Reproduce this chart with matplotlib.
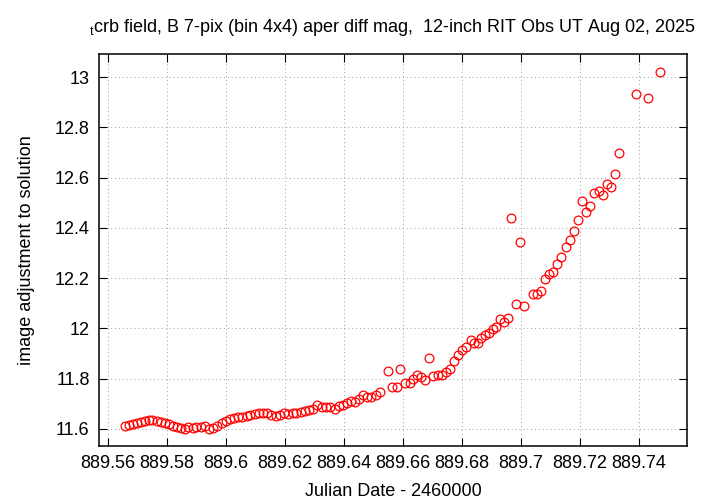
import matplotlib
matplotlib.use('Agg')
import matplotlib.pyplot as plt
from matplotlib.ticker import FuncFormatter, MultipleLocator

# Julian date - 2460000, and the magnitude adjustment
jd = [889.5659, 889.5672, 889.5686, 889.5699, 889.5713, 889.5726, 889.5740, 889.5752,
      889.5766, 889.5780, 889.5793, 889.5807, 889.5820, 889.5834, 889.5847, 889.5861,
      889.5874, 889.5888, 889.5901, 889.5915, 889.5929, 889.5942, 889.5956, 889.5969,
      889.5986, 889.6001, 889.6014, 889.6028, 889.6042, 889.6057, 889.6071, 889.6084,
      889.6099, 889.6113, 889.6127, 889.6141, 889.6155, 889.6170, 889.6184, 889.6197,
      889.6212, 889.6227, 889.6240, 889.6255, 889.6268, 889.6283, 889.6296, 889.6310,
      889.6325, 889.6339, 889.6353, 889.6370, 889.6384, 889.6398, 889.6412, 889.6426,
      889.6438, 889.6452, 889.6466, 889.6479, 889.6494, 889.6509, 889.6522, 889.6550,
      889.6563, 889.6579, 889.6592, 889.6607, 889.6624, 889.6635, 889.6649, 889.6661,
      889.6677, 889.6689, 889.6703, 889.6718, 889.6733, 889.6746, 889.6759, 889.6773,
      889.6788, 889.6802, 889.6814, 889.6830, 889.6841, 889.6855, 889.6867, 889.6880,
      889.6893, 889.6906, 889.6915, 889.6929, 889.6942, 889.6957, 889.6968, 889.6983,
      889.6996, 889.7010, 889.7042, 889.7055, 889.7070, 889.7081, 889.7095, 889.7109,
      889.7123, 889.7138, 889.7152, 889.7166, 889.7179, 889.7194, 889.7207, 889.7222,
      889.7236, 889.7248, 889.7264, 889.7279, 889.7292, 889.7307, 889.7321, 889.7333,
      889.7389, 889.7430, 889.7473]

mag = [11.613, 11.617, 11.621, 11.624, 11.628, 11.632, 11.637, 11.636,
       11.631, 11.627, 11.623, 11.619, 11.613, 11.609, 11.605, 11.599,
       11.608, 11.605, 11.607, 11.608, 11.611, 11.601, 11.605, 11.611,
       11.623, 11.633, 11.639, 11.643, 11.647, 11.649, 11.652, 11.657,
       11.660, 11.662, 11.665, 11.662, 11.657, 11.652, 11.656, 11.662,
       11.660, 11.662, 11.665, 11.668, 11.670, 11.676, 11.681, 11.695,
       11.689, 11.686, 11.686, 11.681, 11.691, 11.695, 11.705, 11.712,
       11.708, 11.718, 11.735, 11.726, 11.728, 11.735, 11.748, 11.829,
       11.765, 11.768, 11.837, 11.782, 11.784, 11.798, 11.816, 11.808,
       11.795, 11.881, 11.811, 11.815, 11.815, 11.826, 11.837, 11.870,
       11.894, 11.914, 11.927, 11.954, 11.943, 11.941, 11.961, 11.974,
       11.983, 11.996, 12.007, 12.036, 12.027, 12.040, 12.440, 12.096,
       12.342, 12.089, 12.137, 12.137, 12.150, 12.195, 12.216, 12.225,
       12.256, 12.283, 12.325, 12.351, 12.388, 12.431, 12.508, 12.464,
       12.488, 12.537, 12.546, 12.533, 12.574, 12.563, 12.616, 12.700,
       12.932, 12.917, 13.020]

title = r"$_\mathregular{t}$crb field, B 7-pix (bin 4x4) aper diff mag,  12-inch RIT Obs UT Aug 02, 2025"

plt.rcParams['font.family'] = ['Liberation Sans', 'DejaVu Sans']
plt.rcParams['mathtext.fontset'] = 'custom'
plt.rcParams['mathtext.rm'] = 'Liberation Sans'
fs = 13

fig = plt.figure(figsize=(7.2, 5.04), dpi=100)
ax = fig.add_axes([0.138, 0.116, 0.816, 0.777])

# open red circles, gnuplot style
ax.plot(jd, mag, linestyle='none', marker='o', markersize=6.3,
        markerfacecolor='none', markeredgecolor='#ff0000', markeredgewidth=0.9)

ax.set_xlim(889.5572, 889.7563)
ax.set_ylim(11.5337, 13.0926)

ax.xaxis.set_major_locator(MultipleLocator(0.02))
ax.yaxis.set_major_locator(MultipleLocator(0.2))
fmt = FuncFormatter(lambda v, p: '%g' % round(v, 4))
ax.xaxis.set_major_formatter(fmt)
ax.yaxis.set_major_formatter(fmt)

ax.tick_params(direction='in', length=6, width=0.8, top=True, right=True,
               labelsize=fs, pad=7, colors='black')
ax.grid(True, linestyle=(0, (1, 3)), color='#a0a0a0', linewidth=0.7)
for s in ax.spines.values():
    s.set_linewidth(1.1)
    s.set_color('black')

ax.set_xlabel('Julian Date - 2460000', fontsize=fs, labelpad=8)
ax.set_ylabel('image adjustment to solution', fontsize=fs, labelpad=14)
fig.text(0.545, 0.945, title, ha='center', va='center', fontsize=fs)

fig.savefig('out.png', dpi=100)
